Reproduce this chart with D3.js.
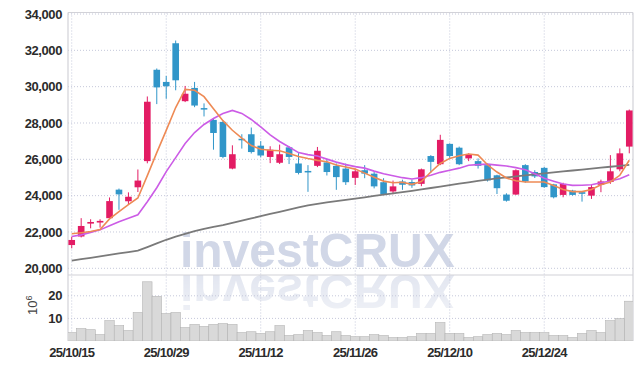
<!DOCTYPE html>
<html>
<head>
<meta charset="utf-8">
<script src="https://cdn.jsdelivr.net/npm/d3@7"></script>
<style>
  body { margin: 0; background: #fff; }
  text { font-family: "Liberation Sans", Arial, sans-serif; }
  #chart { position: relative; width: 642px; height: 369px; }
  #chart svg { position: absolute; left: 0; }
  #mark {
    -webkit-box-reflect: below -14px linear-gradient(to bottom, rgba(0,0,0,0.3), rgba(0,0,0,0.7));
  }
</style>
</head>
<body>
<div id="chart"></div>
<script>
'use strict';

// trading days, YY/MM/DD
const dates = [
  "25/10/15","25/10/16","25/10/17","25/10/20","25/10/21","25/10/22","25/10/23","25/10/24","25/10/27","25/10/28",
  "25/10/29","25/10/30","25/10/31","25/11/03","25/11/04","25/11/05","25/11/06","25/11/07","25/11/10","25/11/11",
  "25/11/12","25/11/13","25/11/14","25/11/17","25/11/18","25/11/19","25/11/20","25/11/21","25/11/24","25/11/25",
  "25/11/26","25/11/27","25/11/28","25/12/01","25/12/02","25/12/03","25/12/04","25/12/05","25/12/08","25/12/09",
  "25/12/10","25/12/11","25/12/12","25/12/15","25/12/16","25/12/17","25/12/18","25/12/19","25/12/22","25/12/23",
  "25/12/24","25/12/26","25/12/29","25/12/30","26/01/02","26/01/05","26/01/06","26/01/07","26/01/08","26/01/09"
];

const open = [
  21280,21750,22460,22520,22760,24330,23690,24460,25900,30930,
  30260,32390,29200,29930,28820,28170,28060,25490,27130,27380,
  26750,26130,25810,26660,25770,25360,25640,25830,25640,25490,
  24980,25400,25210,24740,24230,24780,24750,24650,26180,25730,
  26850,26640,26050,25900,25680,25120,24060,24060,25680,25300,
  25530,24620,24040,24280,24190,24000,24600,24750,25450,26700
];
const high = [
  21740,22760,22700,22700,23900,24390,24180,25440,29460,31000,
  30590,32540,30040,30260,29080,28280,28100,26770,27380,27750,
  27000,26720,26810,26720,26340,25680,26680,26020,25770,25770,
  25490,25680,25300,24960,24830,24880,24880,25490,26230,27350,
  26880,26700,26330,26050,25770,25150,24130,25450,25730,25400,
  25580,24650,24710,24320,24220,24600,24880,26230,26600,28740
];
const low = [
  21100,21700,22200,22240,22720,23220,23500,24200,25780,29040,
  29330,29800,29150,28870,28360,26530,26060,25450,26590,26320,
  26110,25790,25740,25740,25170,24210,25570,25110,24320,24590,
  24590,24960,24400,24040,24080,24320,24430,24520,25250,25680,
  26080,25680,25900,25490,24780,24090,23670,24040,24710,24970,
  24430,23850,23910,24000,23670,23820,24190,24650,25340,26330
];
const close = [
  21560,22330,22550,22610,23700,24070,23940,24830,29170,29960,
  30020,30350,29610,28960,28780,27450,26130,26280,27080,26400,
  26210,26530,26280,26130,25250,25320,26470,25300,25020,24740,
  25340,25210,24510,24080,24510,24600,24560,25450,25860,27070,
  26180,25730,26290,25640,24840,24410,23720,25400,24780,25060,
  24470,23910,24650,24040,24100,24470,24780,25340,26330,28690
];

// volume, millions of shares
const volume = [
  3.7,5.5,5.0,2.8,9.0,6.8,4.6,12.6,26.2,19.7,
  12.1,12.6,5.9,7.3,6.4,7.3,7.7,7.3,3.7,4.1,
  3.3,4.1,6.8,2.4,2.8,4.6,3.7,2.4,4.1,2.4,
  1.9,1.9,2.8,2.4,1.5,1.5,1.9,3.3,3.3,8.1,
  3.3,3.3,1.5,1.9,2.8,3.3,2.8,4.6,3.7,3.7,
  3.7,2.4,2.4,1.5,3.3,4.6,3.7,9.0,9.9,17.6
];

// moving averages as drawn
const ma5 = [
  21900,21960,22030,22130,22720,23120,23500,23870,25100,26370,
  27590,28850,29850,29800,29450,28790,28130,27600,27170,26760,
  26550,26500,26470,26320,26160,26040,25940,25870,25690,25580,
  25460,25240,25010,24800,24710,24740,24620,24780,25300,25770,
  26050,26200,26290,26230,25700,25300,24970,24820,24750,24750,
  24750,24560,24340,24220,24220,24340,24600,24750,25120,25950
];
const ma20 = [
  21746,21840,21978,22116,22337,22558,22751,22945,23663,24437,
  25321,26094,26868,27475,27917,28249,28525,28690,28525,28193,
  27780,27340,26980,26675,26370,26260,26180,26010,25845,25707,
  25597,25514,25350,25210,25100,24990,24917,24990,25127,25282,
  25403,25514,25669,25707,25735,25680,25636,25541,25431,25210,
  24961,24796,24641,24564,24575,24602,24713,24807,24934,25155
];
const ma120 = [
  20420,20500,20580,20660,20735,20820,20895,20970,21170,21370,
  21570,21745,21895,22045,22165,22280,22380,22500,22620,22745,
  22870,22990,23110,23225,23350,23470,23550,23625,23695,23770,
  23840,23910,23985,24055,24120,24195,24265,24345,24420,24500,
  24580,24660,24735,24810,24885,24945,25000,25060,25115,25175,
  25230,25285,25335,25385,25435,25490,25540,25590,25640,25690
];

const priceTicks = [20000,22000,24000,26000,28000,30000,32000,34000];
const volumeTicks = [10,20];
const dateTicks = ["25/10/15","25/10/29","25/11/12","25/11/26","25/12/10","25/12/24"];

const width = 642, height = 369;
const left = 68, right = 633;
const mainTop = 12.5, mainBottom = 275, volBottom = 341;

const upColor = "#e31c64", downColor = "#3196c9";
const gridColor = "#c5c8da";
const fmt = d3.format(",");

// watermark sits underneath, css reflection gives the mirrored copy
const markTop = 220, markBottom = 278;
d3.select("#chart").append("svg")
  .attr("id", "mark")
  .style("top", markTop + "px")
  .attr("width", width)
  .attr("height", markBottom - markTop)
  .append("text")
    .attr("x", 180).attr("y", 267 - markTop)
    .style("font-size", "48px").style("font-weight", "bold")
    .style("fill", "#d1d7e7")
    .text("investCRUX");

const svg = d3.select("#chart").append("svg")
  .style("top", "0px")
  .attr("width", width)
  .attr("height", height);

const x = d3.scaleBand()
  .domain(d3.range(dates.length))
  .range([left - 1, right + 1]);
const cx = i => x(i) + x.bandwidth() / 2;

const y = d3.scaleLinear().domain([20000, 34000]).range([268.3, 14]);
const yv = d3.scaleLinear().domain([0, 10]).range([volBottom, 318.4]);

const defs = svg.append("defs");
defs.append("clipPath").attr("id", "clipMain")
  .append("rect").attr("x", left).attr("y", mainTop).attr("width", right - left).attr("height", mainBottom - mainTop);
defs.append("clipPath").attr("id", "clipVol")
  .append("rect").attr("x", left).attr("y", mainBottom).attr("width", right - left).attr("height", volBottom - mainBottom);

// grid
const grid = svg.append("g").attr("stroke", gridColor).attr("stroke-dasharray", "1,2");
grid.selectAll(".hp").data(priceTicks).enter().append("line")
  .attr("x1", left).attr("x2", right)
  .attr("y1", d => y(d)).attr("y2", d => y(d));
grid.selectAll(".hv").data(volumeTicks).enter().append("line")
  .attr("x1", left).attr("x2", right)
  .attr("y1", d => yv(d)).attr("y2", d => yv(d));
grid.selectAll(".vx").data(dateTicks).enter().append("line")
  .attr("x1", d => cx(dates.indexOf(d))).attr("x2", d => cx(dates.indexOf(d)))
  .attr("y1", mainTop).attr("y2", volBottom);

// frame
const frame = svg.append("g").attr("stroke", "#d2d2d8").attr("stroke-width", 1.2);
frame.append("line").attr("x1", left).attr("x2", right).attr("y1", mainTop).attr("y2", mainTop);
frame.append("line").attr("x1", left).attr("x2", right).attr("y1", mainBottom).attr("y2", mainBottom);
frame.append("line").attr("x1", left).attr("x2", left).attr("y1", mainTop).attr("y2", volBottom);
frame.append("line").attr("x1", right).attr("x2", right).attr("y1", mainTop).attr("y2", volBottom);

// volume bars
svg.append("g").attr("clip-path", "url(#clipVol)")
  .selectAll("rect").data(volume).enter().append("rect")
    .attr("x", (d, i) => x(i))
    .attr("width", x.bandwidth())
    .attr("y", d => yv(d))
    .attr("height", d => volBottom - yv(d))
    .style("fill", "#d9d9d9")
    .style("stroke", "#b4b4b4")
    .style("stroke-width", 0.6);

// candles
const bodyW = x.bandwidth() * 0.7;
const candles = svg.append("g").attr("clip-path", "url(#clipMain)")
  .selectAll("g").data(d3.range(dates.length)).enter().append("g")
    .attr("fill", i => close[i] >= open[i] ? upColor : downColor)
    .attr("stroke", i => close[i] >= open[i] ? upColor : downColor);
candles.append("line")
  .attr("x1", cx).attr("x2", cx)
  .attr("y1", i => y(high[i])).attr("y2", i => y(low[i]))
  .attr("stroke-width", 1);
candles.append("rect")
  .attr("x", i => cx(i) - bodyW / 2)
  .attr("width", bodyW)
  .attr("y", i => y(Math.max(open[i], close[i])))
  .attr("height", i => Math.max(1.5, Math.abs(y(open[i]) - y(close[i]))))
  .attr("stroke", "none");

// moving averages
const lineGen = arr => d3.line().x((d, i) => cx(i)).y(d => y(d))(arr);
const maG = svg.append("g").attr("clip-path", "url(#clipMain)").attr("fill", "none");
maG.append("path").attr("d", lineGen(ma120)).attr("stroke", "#7a7a7a").attr("stroke-width", 1.8);
maG.append("path").attr("d", lineGen(ma20)).attr("stroke", "#cc5ce6").attr("stroke-width", 1.6);
maG.append("path").attr("d", lineGen(ma5)).attr("stroke", "#ee8a55").attr("stroke-width", 1.6);

// axis labels
svg.append("g").selectAll("text").data(priceTicks).enter().append("text")
  .attr("x", 62).attr("y", d => y(d)).attr("dy", "0.36em")
  .attr("text-anchor", "end")
  .style("font-size", "13px").style("font-weight", "bold")
  .style("letter-spacing", "-0.4px").style("fill", "#2b2b2b")
  .text(d => fmt(d));

svg.append("g").selectAll("text").data(volumeTicks).enter().append("text")
  .attr("x", 62).attr("y", d => yv(d)).attr("dy", "0.36em")
  .attr("text-anchor", "end")
  .style("font-size", "13px").style("font-weight", "bold")
  .style("letter-spacing", "-0.4px").style("fill", "#2b2b2b")
  .text(d => d);

const unit = svg.append("text")
  .attr("transform", "translate(37,315) rotate(-90)")
  .style("font-size", "13px").style("fill", "#444");
unit.append("tspan").text("10");
unit.append("tspan").attr("dy", "-5").style("font-size", "9px").text("6");

svg.append("g").selectAll("text").data(dateTicks).enter().append("text")
  .attr("x", d => cx(dates.indexOf(d))).attr("y", 357)
  .attr("text-anchor", "middle")
  .style("font-size", "13px").style("font-weight", "bold")
  .style("letter-spacing", "-0.7px").style("fill", "#2b2b2b")
  .text(d => d);
</script>
</body>
</html>
